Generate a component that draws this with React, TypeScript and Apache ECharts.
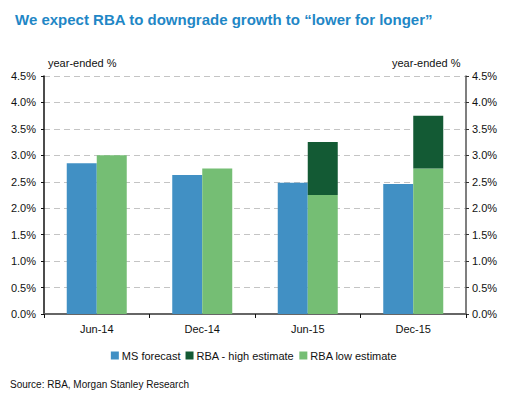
import React, { useEffect, useRef } from "react";
import * as echarts from "echarts";

const categories = ["Jun-14", "Dec-14", "Jun-15", "Dec-15"];
const msForecast = [2.85, 2.63, 2.48, 2.46];
const rbaLowEstimate = [3.0, 2.75, 2.25, 2.75];
const rbaHighEstimate = [null, null, 3.25, 3.75];
const yTicks = { min: 0, max: 4.5, interval: 0.5 };

const FONT = "Liberation Sans, Arial, sans-serif";

export default function App() {
  const ref = useRef<HTMLDivElement>(null);
  useEffect(() => {
    if (!ref.current) return;
    const chart = echarts.init(ref.current, null, { renderer: "svg" });
    const highIncrement = rbaHighEstimate.map((h, i) =>
      h == null ? null : +(h - rbaLowEstimate[i]).toFixed(4)
    );
    const labelFmt = (v: number) => v.toFixed(1) + "%";
    chart.setOption({
      animation: false,
      textStyle: { fontFamily: FONT },
      grid: { left: 44, right: 42, top: 76, bottom: 84 },
      title: {
        text: "We expect RBA to downgrade growth to \u201clower for longer\u201d",
        left: 10,
        top: 7,
        textStyle: { color: "#1f87c6", fontSize: 15, fontWeight: "bold", fontFamily: FONT },
      },
      legend: {
        data: ["MS forecast", "RBA - high estimate", "RBA low estimate"],
        left: "center",
        top: 345,
        itemWidth: 8,
        itemHeight: 8,
        itemGap: 5,
        icon: "rect",
        textStyle: { fontSize: 11, color: "#111", padding: [0, 0, 0, -2] },
      },
      graphic: [
        { type: "text", left: 48, top: 57, style: { text: "year-ended %", fontSize: 11, fill: "#111", fontFamily: FONT } },
        { type: "text", left: 392, top: 57, style: { text: "year-ended %", fontSize: 11, fill: "#111", fontFamily: FONT } },
        { type: "text", left: 10, top: 379, style: { text: "Source: RBA, Morgan Stanley Research", fontSize: 10, fill: "#111", fontFamily: FONT } },
      ],
      xAxis: {
        type: "category",
        data: categories,
        axisLine: { lineStyle: { color: "#666", width: 2 } },
        axisTick: { show: true, alignWithLabel: false, length: 4, lineStyle: { color: "#111" } },
        axisLabel: { fontSize: 11, color: "#111", margin: 9 },
      },
      yAxis: [
        {
          type: "value",
          ...yTicks,
          position: "left",
          axisLine: { show: true, lineStyle: { color: "#111", width: 1.5 } },
          axisTick: { show: true, length: 3, lineStyle: { color: "#111" } },
          axisLabel: { fontSize: 11, color: "#111", formatter: labelFmt, margin: 8 },
          splitLine: { show: true, lineStyle: { color: "#c4c4c4", type: [6, 4], width: 1 } },
        },
        {
          type: "value",
          ...yTicks,
          position: "right",
          axisLine: { show: true, lineStyle: { color: "#555", width: 1.5 } },
          axisTick: { show: true, length: 3, lineStyle: { color: "#333" } },
          axisLabel: { fontSize: 11, color: "#111", formatter: labelFmt, margin: 6 },
          splitLine: { show: false },
        },
      ],
      series: [
        {
          name: "MS forecast",
          type: "bar",
          data: msForecast,
          barWidth: 30,
          barGap: "0%",
          itemStyle: { color: "#4190c4" },
        },
        {
          name: "RBA low estimate",
          type: "bar",
          stack: "rba",
          data: rbaLowEstimate,
          barWidth: 30,
          itemStyle: { color: "#75be74" },
        },
        {
          name: "RBA - high estimate",
          type: "bar",
          stack: "rba",
          data: highIncrement,
          barWidth: 30,
          itemStyle: { color: "#135a34" },
        },
      ],
    });
    return () => chart.dispose();
  }, []);
  return (
    <div
      ref={ref}
      style={{ position: "fixed", left: 0, top: 0, width: 508, height: 398, background: "#fff" }}
    />
  );
}
